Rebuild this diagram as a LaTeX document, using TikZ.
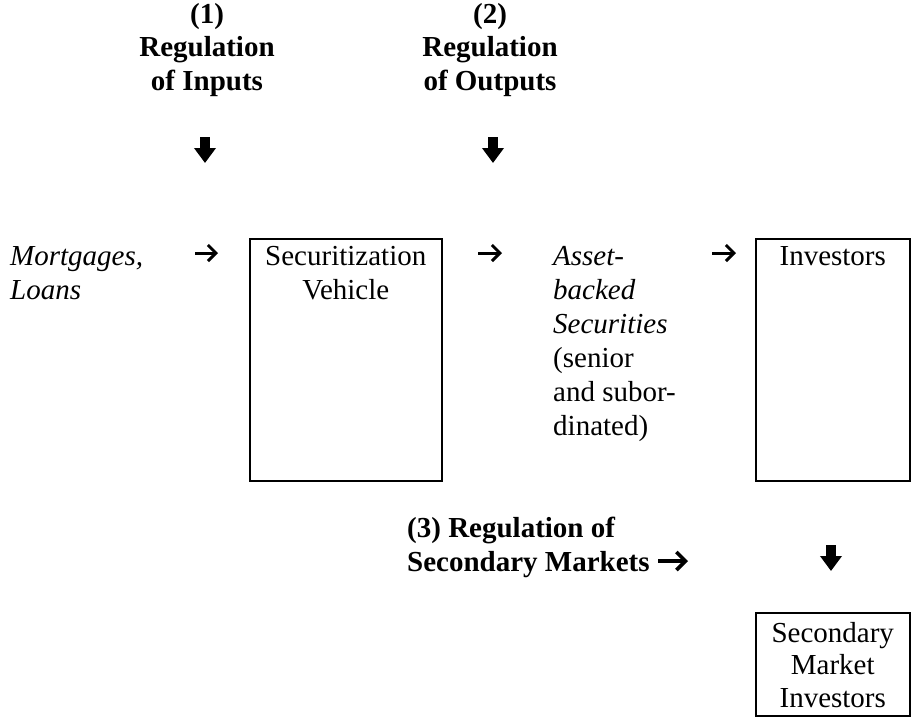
\documentclass[tikz,border=0pt]{standalone}
\usepackage{fontspec}
\setmainfont{Liberation Serif}
\usetikzlibrary{arrows.meta}
\begin{document}
\begin{tikzpicture}[x=1pt,y=-1pt,
  txt/.style={inner sep=0pt, font=\fontsize{29}{34}\selectfont},
  smitxt/.style={inner sep=0pt, font=\fontsize{29}{32.6}\selectfont},
  head/.style={inner sep=0pt, font=\fontsize{29}{33.5}\selectfont\bfseries},
  box/.style={draw, line width=1.5pt, inner sep=0pt, anchor=north west},
  rarr/.style={line width=3pt, -{Straight Barb[length=8pt,width=16pt,line width=3pt]}},
  brarr/.style={line width=3.6pt, -{Straight Barb[length=9pt,width=18pt,line width=3.6pt]}},
  darr/.style={line width=10pt, -{Triangle[length=15pt,width=21pt]}}]
\useasboundingbox (0,0) rectangle (911,716);

% headings (first baseline = north + 0.7 baselineskip)
\node[head, align=center, anchor=north] (h1) at (207,-0.5) {\strut(1)\\Regulation\\of Inputs};
\node[head, align=center, anchor=north] (h2) at (490,-0.5) {\strut(2)\\Regulation\\of Outputs};
\node[head, align=left, anchor=north west] (h3) at (407,514) {\strut(3) Regulation of\\Secondary Markets};

% boxes
\node[box, minimum width=192pt, minimum height=242pt] (sv) at (249,238) {};
\node[box, minimum width=154pt, minimum height=242pt] (inv) at (755,238) {};
\node[box, minimum width=154pt, minimum height=103pt] (smi) at (755,612) {};

% texts
\node[txt, align=left, anchor=north west] (mort) at (10,241.2) {\strut\textit{Mortgages,}\\\textit{Loans}};
\node[txt, align=center, anchor=north] (svt) at (sv.north |- 0,241.2) {\strut Securitization\\Vehicle};
\node[txt, align=left, anchor=north west] (abs) at (553,241.2) {\strut\textit{Asset-}\\\textit{backed}\\\textit{Securities}\\(senior\\and subor-\\dinated)};
\node[txt, anchor=north] (invt) at (inv.north |- 0,241.2) {\strut Investors};
\node[smitxt, align=center, anchor=north] (smit) at (smi.north |- 0,619.2) {\strut Secondary\\Market\\Investors};

% down arrows
\coordinate (d1s) at (205,137); \coordinate (d1e) at (205,163);
\coordinate (d2s) at (493,137); \coordinate (d2e) at (493,163);
\coordinate (d3s) at (831,545); \coordinate (d3e) at (831,571);
\draw[darr] (d1s) -- (d1e);
\draw[darr] (d2s) -- (d2e);
\draw[darr] (d3s) -- (d3e);

% right arrows
\coordinate (a1s) at (195,253); \coordinate (a1e) at (218,253);
\coordinate (a2s) at (478,253); \coordinate (a2e) at (502,253);
\coordinate (a3s) at (712,253); \coordinate (a3e) at (736,253);
\coordinate (a4s) at (658,561); \coordinate (a4e) at (688,561);
\draw[rarr] (a1s) -- (a1e);
\draw[rarr] (a2s) -- (a2e);
\draw[rarr] (a3s) -- (a3e);
\draw[brarr] (a4s) -- (a4e);
\end{tikzpicture}
\end{document}
